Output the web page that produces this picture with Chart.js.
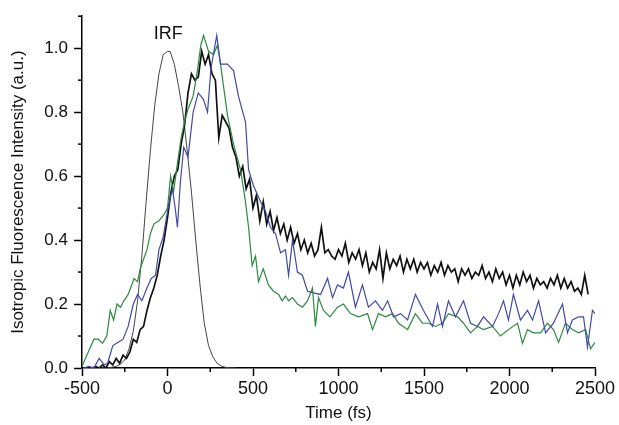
<!DOCTYPE html>
<html><head><meta charset="utf-8">
<script src="https://cdn.jsdelivr.net/npm/chart.js@4"></script>
<style>html,body{margin:0;padding:0;background:#fff}</style>
</head><body>
<canvas id="c" width="619" height="425"></canvas>
<script>
// ---- tick labels / axes ----
const xTicks = [-500, 0, 500, 1000, 1500, 2000, 2500];
const yTicks = [0, 0.2, 0.4, 0.6, 0.8, 1.0];
const xMinorTicks = [-250, 250, 750, 1250, 1750, 2250];
const yMinorTicks = [0.1, 0.3, 0.5, 0.7, 0.9, 1.1];
const xTitle = "Time (fs)";
const yTitle = "Isotropic Fluorescence Intensity (a.u.)";
const irfLabel = "IRF";
const irfLabelAt = [5, 1.045];

// ---- IRF (instrument response) ----
const irfT = [-400,-350,-300,-275,-250,-225,-200,-175,-150,-125,-100,-75,-50,-25,0,15,40,65,90,115,140,165,190,215,240,265,290,315,340,370,400];
const irfV = [0,0,0.005,0.012,0.025,0.06,0.115,0.21,0.35,0.52,0.68,0.82,0.92,0.98,0.99,0.99,0.95,0.88,0.80,0.68,0.55,0.40,0.26,0.14,0.07,0.035,0.015,0.006,0.002,0,0];

// ---- black trace: sampled every 20 fs from -440 fs ----
const blackStart = -440, blackStep = 20;
const blackV = [
 0.00,0.005,0.00,0.01,0.00,0.02,0.01,0.03,0.015,0.04,
 0.03,0.05,0.09,0.08,0.12,0.13,0.18,0.22,0.25,0.29,
 0.35,0.40,0.47,0.55,0.60,0.62,0.70,0.76,0.86,0.92,
 0.90,0.91,0.99,0.95,0.98,0.92,0.90,0.72,0.79,0.77,
 0.75,0.69,0.66,0.60,0.63,0.56,0.59,0.50,0.54,0.46,
 0.52,0.45,0.49,0.43,0.47,0.42,0.45,0.40,0.44,0.39,
 0.42,0.37,0.40,0.36,0.39,0.35,0.37,0.44,0.36,0.37,
 0.35,0.34,0.37,0.35,0.39,0.33,0.36,0.34,0.37,0.32,
 0.36,0.30,0.33,0.31,0.37,0.28,0.36,0.31,0.34,0.32,
 0.35,0.30,0.34,0.31,0.34,0.30,0.33,0.31,0.33,0.29,
 0.32,0.30,0.33,0.29,0.32,0.30,0.31,0.27,0.31,0.29,
 0.31,0.28,0.30,0.29,0.32,0.28,0.30,0.27,0.31,0.28,
 0.30,0.26,0.29,0.25,0.29,0.26,0.30,0.27,0.29,0.25,
 0.28,0.26,0.27,0.25,0.28,0.26,0.29,0.25,0.28,0.25,
 0.27,0.24,0.25,0.23,0.29,0.23];

// ---- blue trace ----
const blueT = [-490,-460,-430,-400,-370,-350,-320,-290,-260,-230,-200,-175,-150,-120,-95,-70,-50,-25,0,15,29,45,58,75,95,120,150,180,210,234,255,288,310,350,386,415,440,456,474,503,544,573,602,632,661,690,708,731,760,789,819,854,895,936,965,994,1029,1058,1099,1140,1175,1216,1257,1287,1322,1363,1404,1450,1497,1550,1579,1608,1643,1684,1731,1772,1813,1848,1901,1936,1965,1994,2023,2064,2105,2135,2170,2211,2257,2310,2339,2368,2404,2433,2456,2485,2500];
const blueV = [0.00,0.005,0.00,0.03,0.01,0.015,0.07,0.08,0.09,0.13,0.20,0.23,0.21,0.25,0.28,0.29,0.37,0.41,0.49,0.53,0.56,0.50,0.44,0.58,0.69,0.66,0.80,0.86,0.84,0.80,0.94,1.04,0.95,0.95,0.93,0.85,0.80,0.77,0.62,0.57,0.52,0.49,0.44,0.42,0.36,0.37,0.29,0.40,0.30,0.29,0.24,0.235,0.23,0.28,0.22,0.26,0.25,0.30,0.19,0.26,0.19,0.21,0.18,0.21,0.16,0.17,0.15,0.23,0.18,0.13,0.20,0.13,0.21,0.16,0.21,0.14,0.13,0.16,0.13,0.17,0.21,0.15,0.23,0.15,0.18,0.15,0.21,0.11,0.14,0.20,0.11,0.15,0.16,0.16,0.065,0.18,0.17];

// ---- green trace ----
const greenT = [-500,-480,-455,-430,-405,-380,-355,-335,-315,-295,-275,-255,-230,-195,-175,-160,-140,-120,-100,-80,-50,-20,0,18,35,58,80,100,120,150,175,195,211,240,270,292,310,351,386,427,456,474,495,515,532,560,590,620,650,670,690,708,731,760,789,819,848,865,883,912,950,994,1029,1070,1117,1170,1199,1234,1275,1316,1351,1404,1450,1491,1526,1567,1608,1643,1696,1731,1772,1813,1848,1901,1947,1994,2047,2076,2105,2140,2182,2222,2257,2287,2327,2368,2404,2445,2474,2500];
const greenV = [0.005,0.03,0.06,0.09,0.09,0.077,0.10,0.18,0.15,0.20,0.19,0.21,0.23,0.28,0.27,0.31,0.34,0.37,0.42,0.45,0.46,0.48,0.50,0.60,0.55,0.64,0.72,0.77,0.81,0.85,0.93,1.01,1.04,0.99,0.98,1.01,0.95,0.79,0.70,0.62,0.52,0.44,0.32,0.35,0.27,0.31,0.26,0.24,0.23,0.21,0.225,0.21,0.22,0.20,0.19,0.21,0.25,0.13,0.22,0.18,0.16,0.19,0.20,0.17,0.16,0.17,0.12,0.17,0.16,0.17,0.14,0.12,0.17,0.14,0.14,0.13,0.14,0.17,0.16,0.14,0.11,0.13,0.12,0.13,0.10,0.12,0.14,0.077,0.12,0.11,0.11,0.14,0.12,0.08,0.14,0.12,0.11,0.12,0.06,0.08];

const zip = (T, V) => V.map((v, i) => ({x: T[i], y: v}));
const blackData = blackV.map((v, i) => ({x: blackStart + i * blackStep, y: v}));

const FONT = "'Liberation Sans', Arial, sans-serif";
Chart.defaults.font.family = FONT;
Chart.defaults.font.size = 17;
Chart.defaults.color = '#111';

const extras = {
  id: 'extras',
  afterDraw(chart) {
    const {ctx, chartArea: a, scales: {x, y}} = chart;
    ctx.save();
    ctx.strokeStyle = '#000';
    ctx.lineWidth = 1.5;
    xMinorTicks.forEach(v => {
      const px = x.getPixelForValue(v);
      ctx.beginPath(); ctx.moveTo(px, a.bottom); ctx.lineTo(px, a.bottom + 4); ctx.stroke();
    });
    yMinorTicks.forEach(v => {
      const py = y.getPixelForValue(v);
      ctx.beginPath(); ctx.moveTo(a.left, py); ctx.lineTo(a.left - 4, py); ctx.stroke();
    });
    ctx.fillStyle = '#111';
    ctx.font = "18px " + FONT;
    ctx.textAlign = 'center';
    ctx.textBaseline = 'middle';
    ctx.fillText(irfLabel, x.getPixelForValue(irfLabelAt[0]), y.getPixelForValue(irfLabelAt[1]));
    ctx.restore();
  }
};

new Chart(document.getElementById('c'), {
  type: 'line',
  data: {
    datasets: [
      {label: 'blue', data: zip(blueT, blueV), borderColor: '#4149aa', borderWidth: 1.2},
      {label: 'green', data: zip(greenT, greenV), borderColor: '#2b8a3e', borderWidth: 1.2},
      {label: 'black', data: blackData, borderColor: '#111', borderWidth: 1.7},
      {label: 'IRF', data: zip(irfT, irfV), borderColor: '#444', borderWidth: 1}
    ]
  },
  options: {
    responsive: false,
    animation: false,
    elements: {point: {radius: 0}, line: {tension: 0}},
    layout: {padding: {top: 12, right: 24, left: 0, bottom: 0}},
    plugins: {legend: {display: false}, tooltip: {enabled: false}},
    scales: {
      x: {
        type: 'linear', min: -500, max: 2500,
        afterBuildTicks: s => { s.ticks = xTicks.map(v => ({value: v})); },
        afterFit: s => { s.height = 57; },
        ticks: {padding: 2, maxRotation: 0, font: {size: 18}, callback: v => String(v)},
        grid: {drawOnChartArea: false, drawTicks: true, tickLength: 8, tickColor: '#000', tickWidth: 1.5},
        border: {display: true, color: '#000', width: 1.5},
        title: {display: true, text: xTitle, font: {size: 17}, padding: {top: 0, bottom: 1}}
      },
      y: {
        type: 'linear', min: 0, max: 1.1,
        afterBuildTicks: s => { s.ticks = yTicks.map(v => ({value: v})); },
        afterFit: s => { s.width = 82; },
        ticks: {padding: 6, font: {size: 17}, callback: v => Number(v).toFixed(1)},
        grid: {drawOnChartArea: false, drawTicks: true, tickLength: 8, tickColor: '#000', tickWidth: 1.5},
        border: {display: true, color: '#000', width: 1.5},
        title: {display: true, text: yTitle, font: {size: 17}, padding: {top: 8, bottom: 0}}
      }
    }
  },
  plugins: [extras]
});
</script>
</body></html>
